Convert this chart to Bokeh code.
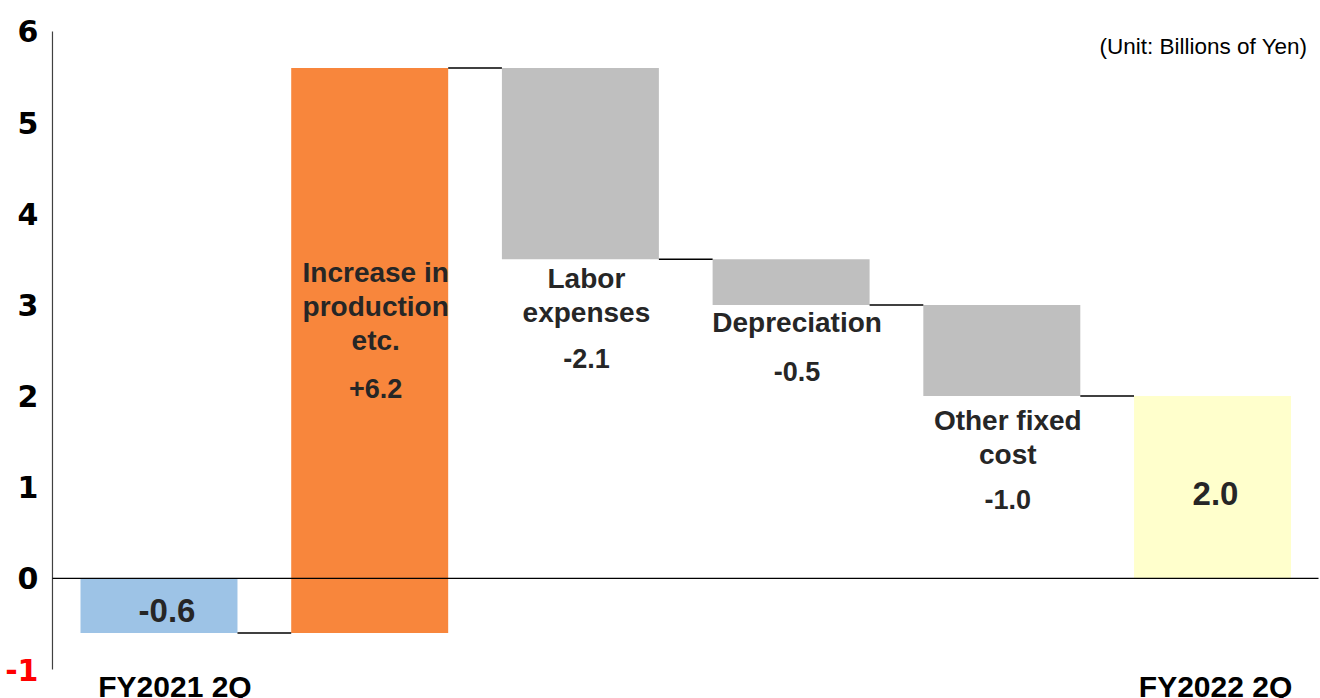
from bokeh.plotting import figure
from bokeh.models import Range1d, ColumnDataSource
from bokeh.embed import file_html
from bokeh.resources import INLINE
from bokeh.core.properties import value

# ---- data ----
categories = ["FY2021 2Q", "Increase in production etc.", "Labor expenses",
              "Depreciation", "Other fixed cost", "FY2022 2Q"]
changes = [-0.6, 6.2, -2.1, -0.5, -1.0, 2.0]
kinds = ["total", "delta", "delta", "delta", "delta", "total"]
bar_colors = ["#9DC3E6", "#F8863C", "#BFBFBF", "#BFBFBF", "#BFBFBF", "#FFFFCC"]
name_texts = ["", "Increase in\nproduction\netc.", "Labor\nexpenses",
              "Depreciation", "Other fixed\ncost", ""]
value_texts = ["-0.6", "+6.2", "-2.1", "-0.5", "-1.0", "2.0"]
y_ticks = [-1, 0, 1, 2, 3, 4, 5, 6]
axis_categories = [categories[0], categories[-1]]
unit_text = "(Unit: Billions of Yen)"

# label anchors (data units, layout only)
name_anchor_y = [None, 3.53, 3.46, 2.98, 1.90, None]
value_anchor_y = [-0.35, 2.08, 2.41, 2.27, 0.87, 0.93]

# ---- waterfall geometry from data ----
bottoms, tops, ends = [], [], []
running = 0.0
for c, k in zip(changes, kinds):
    if k == "total":
        start, running = 0.0, c
    else:
        start, running = running, running + c
    bottoms.append(min(start, running))
    tops.append(max(start, running))
    ends.append(running)

xs = list(range(len(categories)))
bar_w = 0.745
TEXT = "#262626"
FONT = "Liberation Sans"

# axis placement in data coordinates
AX_X = -0.5055      # position of the vertical value axis
RIGHT_X = 5.503     # right end of the zero line
Y_MIN, Y_MAX = -1, 6

p = figure(width=1320, height=698, output_backend="svg", toolbar_location=None,
           x_range=Range1d(-0.7522, 5.5125), y_range=Range1d(-1.318, 6.340),
           min_border_left=0, min_border_right=0, min_border_top=0, min_border_bottom=0)
p.outline_line_color = None
p.xgrid.visible = False
p.ygrid.visible = False
p.xaxis.visible = False
p.yaxis.visible = False
p.background_fill_color = "white"
p.border_fill_color = "white"

# value axis line + tick labels
p.segment(x0=[AX_X], x1=[AX_X], y0=[Y_MIN], y1=[Y_MAX], line_color="#404040", line_width=1.2)
tick_colors = ["#FF0000" if t < 0 else "black" for t in y_ticks]
p.text(x=[AX_X] * len(y_ticks), y=y_ticks, text=[str(t) for t in y_ticks],
       text_color=tick_colors, text_font=value("DejaVu Sans"), text_font_style="bold",
       text_font_size="30px", text_align="right", text_baseline="middle", x_offset=-14)

src = ColumnDataSource(dict(x=xs, bottom=bottoms, top=tops, color=bar_colors))
p.vbar(x="x", bottom="bottom", top="top", width=bar_w, fill_color="color",
       line_color=None, source=src)

# connectors
cx0 = [x + bar_w / 2 for x in xs[:-1]]
cx1 = [x + 1 - bar_w / 2 for x in xs[:-1]]
p.segment(x0=cx0, x1=cx1, y0=ends[:-1], y1=ends[:-1], line_color="black", line_width=1.5)

# zero line
p.segment(x0=[AX_X], x1=[RIGHT_X], y0=[0], y1=[0], line_color="black", line_width=1.3)

# name labels
ni = [i for i in xs if name_texts[i]]
p.text(x=[xs[i] for i in ni], y=[name_anchor_y[i] for i in ni],
       text=[name_texts[i] for i in ni], text_font=value(FONT), text_font_style="bold",
       text_font_size="28px", text_color=TEXT, text_align="center", text_baseline="top",
       text_line_height=1.10, x_offset=6)

# delta value labels
di = [i for i in xs if kinds[i] == "delta"]
p.text(x=[xs[i] for i in di], y=[value_anchor_y[i] for i in di],
       text=[value_texts[i] for i in di], text_font=value(FONT), text_font_style="bold",
       text_font_size="27px", text_color=TEXT, text_align="center", text_baseline="middle",
       x_offset=6)

# total value labels
ti = [i for i in xs if kinds[i] == "total"]
p.text(x=[xs[i] for i in ti], y=[value_anchor_y[i] for i in ti],
       text=[value_texts[i] for i in ti], text_font=value(FONT), text_font_style="bold",
       text_font_size="33px", text_color=TEXT, text_align="center", text_baseline="middle",
       x_offset=[8, 3])

# category labels under the first and last bar
p.text(x=[xs[0], xs[-1]], y=[Y_MIN, Y_MIN], text=axis_categories,
       text_font=value(FONT), text_font_style="bold", text_font_size="30px",
       text_color="black", text_align="center", text_baseline="top",
       x_offset=[16, 3], y_offset=0)

# unit note
p.text(x=[RIGHT_X], y=[Y_MAX], text=[unit_text], text_font=value(FONT),
       text_font_size="22.5px", text_color="black", text_align="right",
       text_baseline="middle", x_offset=-11, y_offset=15)

open("out.html", "w").write(file_html(p, INLINE))
